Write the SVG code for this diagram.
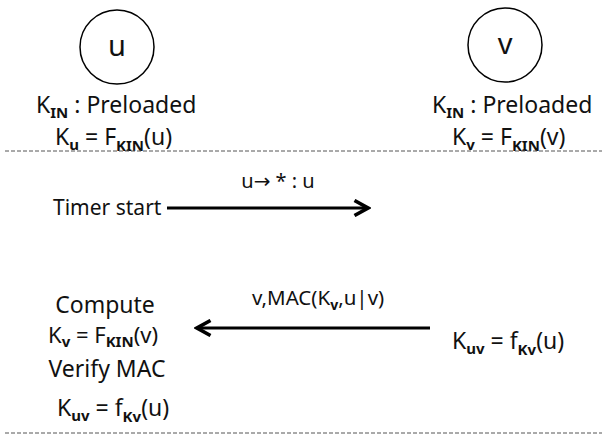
<svg xmlns="http://www.w3.org/2000/svg" width="607" height="435" viewBox="0 0 607 435">
<style>
text{font-family:"Noto Sans","Open Sans","Liberation Sans",sans-serif;fill:#111;}
.t{font-size:23px;}
.s{font-size:15px;font-weight:bold;}
.dash{stroke:#555;stroke-width:1;stroke-dasharray:4 2;fill:none;}
.arr{stroke:#000;stroke-width:3;fill:none;}
</style>
<defs>
<marker id="ah" markerWidth="6" markerHeight="6" refX="5" refY="3" orient="auto" markerUnits="strokeWidth">
<path d="M0.5,0.5 L5,3 L0.5,5.5" fill="none" stroke="#000" stroke-width="1.2"/>
</marker>
</defs>
<g id="node-u">
<circle cx="117" cy="47" r="37" fill="#fff" stroke="#000" stroke-width="1.5"/>
<text x="117" y="56" text-anchor="middle" style="font-size:29px">u</text>
<text class="t" x="36" y="113">K<tspan class="s" dy="5">IN</tspan><tspan dy="-5"> : Preloaded</tspan></text>
<text class="t" x="55" y="145">K<tspan class="s" dy="5">u</tspan><tspan dy="-5"> =  F</tspan><tspan class="s" dy="6">KIN</tspan><tspan dy="-6">(u)</tspan></text>
</g>
<g id="node-v">
<circle cx="505" cy="45" r="37" fill="#fff" stroke="#000" stroke-width="1.5"/>
<text x="505" y="54" text-anchor="middle" style="font-size:29px">v</text>
<text class="t" x="432" y="113">K<tspan class="s" dy="5">IN</tspan><tspan dy="-5"> : Preloaded</tspan></text>
<text class="t" x="452" y="145">K<tspan class="s" dy="5">v</tspan><tspan dy="-5"> =  F</tspan><tspan class="s" dy="6">KIN</tspan><tspan dy="-6">(v)</tspan></text>
</g>
<g id="u-side">
<text class="t" x="53" y="215" style="font-size:21px">Timer start</text>
<text class="t" x="105" y="313" text-anchor="middle">Compute</text>
<text class="t" x="48" y="343" style="font-size:22px">K<tspan class="s" dy="4">v</tspan><tspan dy="-4"> =  F</tspan><tspan class="s" dy="4">KIN</tspan><tspan dy="-4">(v)</tspan></text>
<text class="t" x="107" y="377" text-anchor="middle">Verify MAC</text>
<text class="t" x="57" y="416">K<tspan class="s" dy="5">uv</tspan><tspan dy="-5"> =  f</tspan><tspan class="s" dy="6">Kv</tspan><tspan dy="-6">(u)</tspan></text>
</g>
<g id="v-side">
<text class="t" x="452" y="349">K<tspan class="s" dy="5">uv</tspan><tspan dy="-5"> =  f</tspan><tspan class="s" dy="6">Kv</tspan><tspan dy="-6">(u)</tspan></text>
</g>
<g id="connectors">
<line class="dash" x1="5" y1="151" x2="602" y2="151"/>
<line class="dash" x1="5" y1="433" x2="602" y2="433"/>
<line class="arr" x1="167" y1="208" x2="368" y2="208" marker-end="url(#ah)"/>
<text x="278" y="188" text-anchor="middle" style="font-size:20px">u<tspan style="font-family:'DejaVu Sans',sans-serif">→</tspan> * : u</text>
<line class="arr" x1="430" y1="328" x2="197" y2="328" marker-end="url(#ah)"/>
<text x="252" y="305" style="font-size:20.5px">v,MAC(K<tspan style="font-size:14px;font-weight:bold" dy="5">v</tspan><tspan dy="-5">,u|v)</tspan></text>
</g>
</svg>
